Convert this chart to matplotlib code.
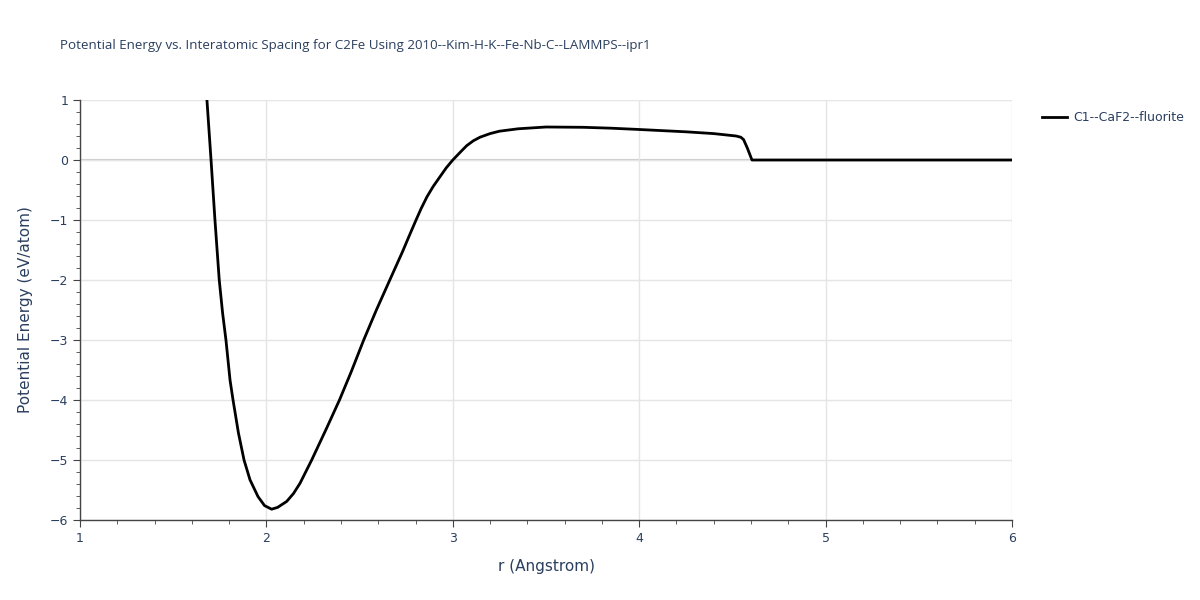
import matplotlib
matplotlib.use("Agg")
import matplotlib.pyplot as plt
from matplotlib.ticker import MultipleLocator

r = [1.681, 1.703, 1.724, 1.747, 1.765, 1.783, 1.805, 1.821, 1.85, 1.880, 1.912, 1.955, 1.99, 2.028,
     2.06, 2.109, 2.145, 2.18, 2.243, 2.323, 2.392, 2.455, 2.522, 2.59, 2.662, 2.73, 2.764, 2.80,
     2.83, 2.862, 2.895, 2.931, 2.965, 3.0, 3.04, 3.075, 3.11, 3.146, 3.20, 3.25, 3.35, 3.50, 3.70,
     3.85, 3.99, 4.25, 4.40, 4.52, 4.545, 4.56, 4.58, 4.605, 5.0, 5.5, 6.0]
energy = [1.0, 0.0, -1.0, -2.0, -2.55, -3.0, -3.67, -4.0, -4.55, -5.0, -5.33, -5.61, -5.76, -5.82,
          -5.79, -5.69, -5.56, -5.39, -5.0, -4.47, -4.0, -3.53, -3.0, -2.5, -2.0, -1.53, -1.28, -1.02,
          -0.81, -0.61, -0.44, -0.28, -0.13, 0.0, 0.13, 0.24, 0.32, 0.38, 0.44, 0.48, 0.52, 0.55, 0.545,
          0.53, 0.51, 0.47, 0.44, 0.40, 0.38, 0.34, 0.20, 0.0, 0.0, 0.0, 0.0]

title = "Potential Energy vs. Interatomic Spacing for C2Fe Using 2010--Kim-H-K--Fe-Nb-C--LAMMPS--ipr1"
series_name = "C1--CaF2--fluorite"
txt = "#2a3f5f"

fig = plt.figure(figsize=(12, 6), dpi=100)
ax = fig.add_axes([80/1200, 80/600, 932/1200, 420/600])
ax.plot(r, energy, color="black", lw=2, label=series_name, zorder=3)
ax.set_xlim(1, 6)
ax.set_ylim(-6, 1)
ax.xaxis.set_major_locator(MultipleLocator(1))
ax.xaxis.set_minor_locator(MultipleLocator(0.2))
ax.yaxis.set_major_locator(MultipleLocator(1))
ax.yaxis.set_minor_locator(MultipleLocator(0.2))
ax.grid(True, which="major", color="#e5e5e5", lw=1, zorder=0)
ax.axhline(0, color="#cccccc", lw=1.5, zorder=1)
for s in ["top", "right"]:
    ax.spines[s].set_visible(False)
for s in ["left", "bottom"]:
    ax.spines[s].set_color("#444444")
    ax.spines[s].set_linewidth(1)
ax.tick_params(which="major", direction="out", length=5, color="#444444", labelcolor=txt, labelsize=9)
ax.tick_params(which="minor", direction="out", length=3, color="#444444")
ax.set_xlabel("r (Angstrom)", color=txt, fontsize=11, labelpad=10)
ax.set_ylabel("Potential Energy (eV/atom)", color=txt, fontsize=11, labelpad=12)
fig.text(60/1200, 1 - 45/600, title, color=txt, fontsize=9.6, va="center", ha="left",
         family="Open Sans")
ax.legend(loc="upper left", bbox_to_anchor=(1.02, 1.0), frameon=False, fontsize=9,
          labelcolor=txt, handlelength=2.0, handletextpad=0.5)
fig.savefig("out.png", dpi=100)
